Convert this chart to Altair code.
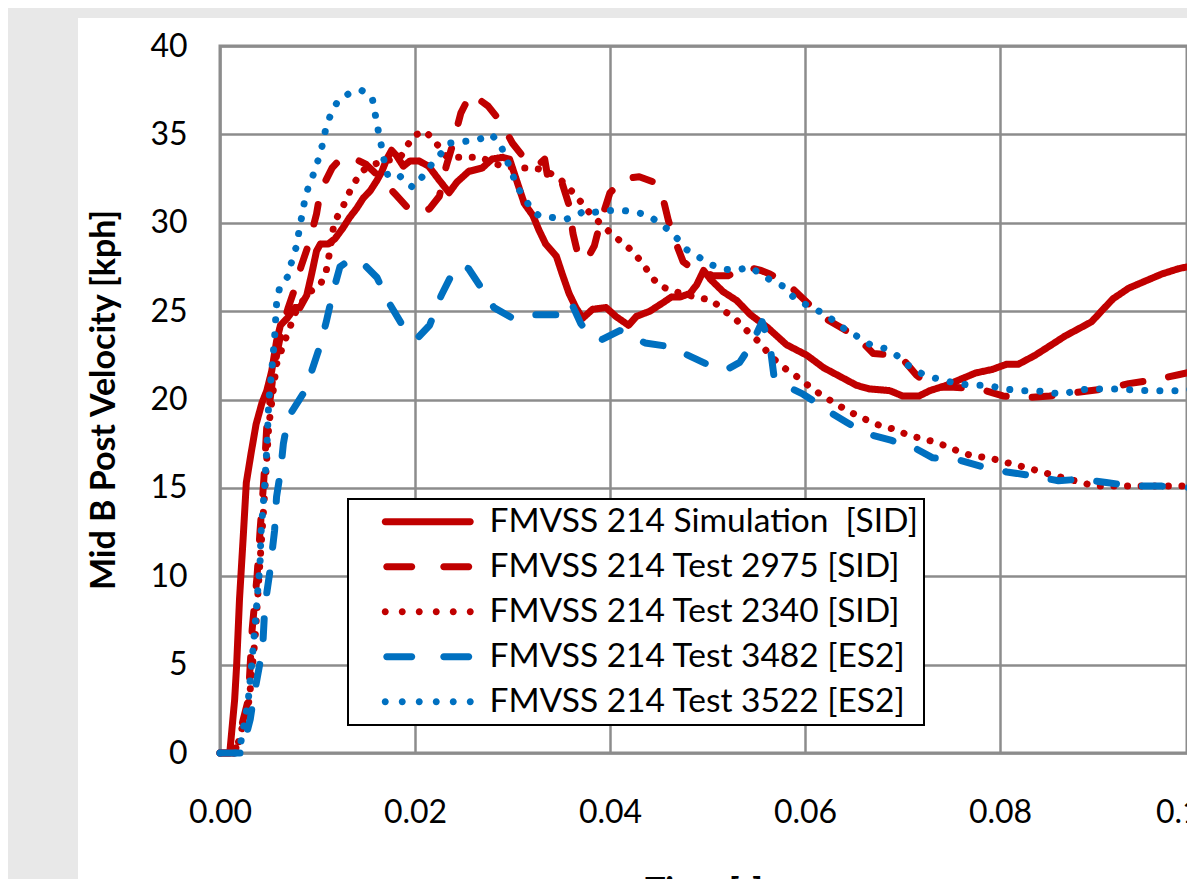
import altair as alt
import pandas as pd

# ---------------- data ----------------
series_names = [
    "FMVSS 214 Simulation\u00a0 [SID]",
    "FMVSS 214 Test 2975 [SID]",
    "FMVSS 214 Test 2340 [SID]",
    "FMVSS 214 Test 3482 [ES2]",
    "FMVSS 214 Test 3522 [ES2]",
]
series_colors = ["#C00000", "#C00000", "#C00000", "#0070C0", "#0070C0"]
series_dashes = [[1, 0], [20, 26], [0.1, 13.5], [20, 26], [0.1, 15]]

x_ticks = [0.0, 0.02, 0.04, 0.06, 0.08, 0.10]
y_ticks = [0, 5, 10, 15, 20, 25, 30, 35, 40]

sim_t = [0, 0.001, 0.0015, 0.0017, 0.002, 0.0024, 0.0027, 0.0032, 0.0037, 0.0043, 0.0048,
         0.0053, 0.0058, 0.0062, 0.0069, 0.0077, 0.0082, 0.0089, 0.0094, 0.0099, 0.0103,
         0.0111, 0.0118, 0.0126, 0.0133, 0.014, 0.0147, 0.0154, 0.0161, 0.0166, 0.0171,
         0.0176, 0.0181, 0.0188, 0.0195, 0.0204, 0.0214, 0.0225, 0.0235, 0.0243, 0.0255,
         0.0269, 0.0279, 0.029, 0.0297, 0.0303, 0.0312, 0.0321, 0.0327, 0.0334, 0.0345,
         0.0351, 0.0358, 0.0365, 0.0372, 0.0382, 0.0396, 0.0406, 0.0419, 0.0427, 0.0441,
         0.0455, 0.0463, 0.0472, 0.0482, 0.0489, 0.0496, 0.0503, 0.0516, 0.053, 0.0544,
         0.0561, 0.0581, 0.0602, 0.0619, 0.0636, 0.0653, 0.0666, 0.0687, 0.07, 0.0717,
         0.0728, 0.0745, 0.0762, 0.0775, 0.0792, 0.0807, 0.0819, 0.0836, 0.0853, 0.0867,
         0.0884, 0.0894, 0.0904, 0.0916, 0.0932, 0.0949, 0.0966, 0.0983, 0.1]
sim_v = [0, 0, 3.0, 4.9, 8.7, 12.4, 15.3, 17.0, 18.6, 19.8, 20.5,
         21.6, 23.3, 24.2, 24.6, 25.2, 25.2, 25.9, 27.1, 28.4, 28.8,
         28.8, 29.1, 29.7, 30.3, 30.8, 31.4, 31.8, 32.4, 32.9, 33.6,
         34.1, 33.8, 33.2, 33.5, 33.5, 33.2, 32.4, 31.7, 32.3, 32.9,
         33.1, 33.6, 33.7, 33.6, 32.6, 31.1, 30.4, 29.6, 28.8, 28.1,
         27.1, 26.0, 25.2, 24.6, 25.1, 25.2, 24.7, 24.2, 24.7, 25.0,
         25.5, 25.8, 25.8, 26.0, 26.5, 27.3, 26.8, 26.1, 25.6, 24.8,
         24.1, 23.1, 22.5, 21.8, 21.3, 20.8, 20.6, 20.5, 20.2, 20.2,
         20.5, 20.8, 21.2, 21.5, 21.7, 22.0, 22.0, 22.5, 23.1, 23.6,
         24.1, 24.4, 25.0, 25.7, 26.3, 26.7, 27.1, 27.4, 27.6]

t2975_t = [0, 0.0015, 0.0029, 0.0033, 0.0038, 0.0041, 0.0045, 0.0048, 0.0055, 0.0063, 0.007,
           0.0075, 0.0083, 0.0091, 0.0099, 0.0103, 0.0115, 0.0125, 0.0135, 0.015, 0.0165,
           0.018, 0.0195, 0.0205, 0.0215, 0.0225, 0.0232, 0.0238, 0.0247, 0.0257, 0.0265,
           0.0275, 0.0288, 0.03, 0.031, 0.0325, 0.0333, 0.0337, 0.0342, 0.035, 0.0358,
           0.0362, 0.0368, 0.0376, 0.0384, 0.039, 0.04, 0.0415, 0.043, 0.0445, 0.0453,
           0.046, 0.0468, 0.0475, 0.0482, 0.0492, 0.0505, 0.0521, 0.054, 0.0555, 0.0564,
           0.0583, 0.06, 0.0617, 0.0636, 0.0654, 0.067, 0.0697, 0.0714, 0.0729, 0.0748,
           0.0779, 0.0803, 0.0826, 0.0851, 0.0879, 0.0908, 0.0932, 0.0957, 0.0983, 0.1]
t2975_v = [0, 0, 3.0, 7.0, 10.0, 12.5, 15.5, 18.5, 21.6, 23.9, 25.2,
           26.0, 27.5, 28.8, 30.5, 31.8, 33.1, 33.7, 33.7, 33.3, 32.5,
           31.6, 30.7, 30.5, 30.8, 31.5, 33.2, 34.3, 36.2, 37.3, 37.0,
           36.6, 35.7, 34.5, 33.8, 33.2, 33.6, 32.3, 32.2, 32.4, 31.0,
           29.4, 28.0, 27.9, 28.7, 30.0, 31.7, 32.5, 32.6, 32.3, 31.7,
           30.1, 28.8, 27.8, 27.5, 27.4, 27.0, 27.0, 27.5, 27.3, 27.1,
           26.5, 25.6, 24.7, 24.1, 23.5, 22.6, 22.5, 21.4, 20.7, 20.7,
           20.6, 20.2, 20.1, 20.2, 20.4, 20.6, 20.9, 21.1, 21.4, 21.6]

t2340_t = [0, 0.0016, 0.003, 0.0036, 0.004, 0.0045, 0.005, 0.0058, 0.0067, 0.0078, 0.009,
           0.0103, 0.0109, 0.0113, 0.0117, 0.0126, 0.0135, 0.0145, 0.0157, 0.017, 0.0185,
           0.0198, 0.021, 0.0219, 0.0233, 0.025, 0.0267, 0.0289, 0.0305, 0.0319, 0.0333,
           0.035, 0.0364, 0.038, 0.0401, 0.0412, 0.0423, 0.0432, 0.0441, 0.0449, 0.0461,
           0.048, 0.0505, 0.0517, 0.0526, 0.0535, 0.0544, 0.0554, 0.0564, 0.0576, 0.0586,
           0.0597, 0.0607, 0.0619, 0.063, 0.0643, 0.0653, 0.0665, 0.0678, 0.0693, 0.0705,
           0.0719, 0.0733, 0.0748, 0.076, 0.0773, 0.0789, 0.0802, 0.0816, 0.083, 0.0843,
           0.0856, 0.087, 0.0884, 0.0897, 0.0915, 0.0932, 0.0949, 0.0966, 0.0981, 0.1]
t2340_v = [0, 0, 3.0, 6.5, 10.0, 14.0, 18.5, 22.0, 23.4, 25.0, 26.0,
           26.5, 27.3, 28.5, 30.0, 30.9, 32.0, 32.9, 33.3, 33.5, 33.7,
           34.9, 35.2, 34.7, 33.7, 33.7, 33.7, 33.2, 33.1, 33.1, 33.0,
           32.4, 31.6, 30.5, 29.4, 28.9, 28.4, 27.8, 27.1, 26.5, 26.2,
           25.9, 25.6, 25.0, 24.7, 24.2, 23.7, 23.2, 22.5, 21.9, 21.5,
           21.1, 20.6, 20.2, 19.8, 19.4, 19.1, 18.8, 18.5, 18.3, 18.0,
           17.8, 17.6, 17.3, 17.0, 16.8, 16.7, 16.5, 16.3, 16.1, 15.9,
           15.7, 15.5, 15.3, 15.1, 15.1, 15.1, 15.1, 15.1, 15.1, 15.1]

t3482_t = [0, 0.0022, 0.0031, 0.0034, 0.0041, 0.0044, 0.0046, 0.0051, 0.0056, 0.0058, 0.0062,
           0.0065, 0.007, 0.0085, 0.0094, 0.0103, 0.0109, 0.0116, 0.0123, 0.0133, 0.0145,
           0.0161, 0.0173, 0.0186, 0.0195, 0.0203, 0.0215, 0.0227, 0.0238, 0.0247, 0.0255,
           0.0267, 0.0281, 0.03, 0.0315, 0.0326, 0.0348, 0.0355, 0.036, 0.037, 0.038,
           0.0392, 0.041, 0.0436, 0.046, 0.0484, 0.0503, 0.052, 0.0533, 0.0545, 0.0556,
           0.0564, 0.0568, 0.0583, 0.0598, 0.0615, 0.0622, 0.0643, 0.0661, 0.0688, 0.0711,
           0.0731, 0.0756, 0.0782, 0.0807, 0.0832, 0.086, 0.0884, 0.0909, 0.0937, 0.0966, 0.1]
t3482_v = [0, 0, 1.9, 3.0, 5.1, 6.2, 8.3, 10.2, 12.6, 14.5, 15.9,
           17.5, 19.0, 20.3, 21.6, 23.1, 24.4, 26.1, 27.5, 27.9, 27.8,
           26.9, 25.5, 24.3, 23.6, 23.5, 24.2, 25.9, 27.1, 27.6, 27.4,
           26.4, 25.2, 24.6, 24.8, 24.8, 24.8, 25.3, 25.5, 24.3, 23.6,
           23.4, 23.9, 23.2, 23.0, 22.4, 21.9, 21.7, 22.1, 23.1, 24.4,
           23.1, 21.4, 20.7, 20.3, 19.7, 19.4, 18.7, 18.1, 17.7, 17.3,
           16.7, 16.6, 16.2, 15.9, 15.7, 15.4, 15.5, 15.3, 15.1, 15.1, 15.0]

t3522_t = [0, 0.0018, 0.0021, 0.0024, 0.0029, 0.0033, 0.0037, 0.0039, 0.0041, 0.0042, 0.0044,
           0.0046, 0.0048, 0.005, 0.0053, 0.0056, 0.0058, 0.0061, 0.007, 0.0073, 0.0078,
           0.0081, 0.0087, 0.0091, 0.0097, 0.0102, 0.0106, 0.0109, 0.0115, 0.0121, 0.0132,
           0.0145, 0.0156, 0.0159, 0.0162, 0.0165, 0.0168, 0.0172, 0.0182, 0.019, 0.0198,
           0.0209, 0.0217, 0.0225, 0.0235, 0.0251, 0.0265, 0.0278, 0.0287, 0.0293, 0.0299,
           0.0304, 0.0311, 0.0319, 0.0327, 0.0341, 0.0355, 0.0365, 0.0375, 0.0385, 0.0397,
           0.0412, 0.0427, 0.044, 0.045, 0.046, 0.0469, 0.0478, 0.049, 0.0501, 0.0514,
           0.0529, 0.0543, 0.0555, 0.0566, 0.0578, 0.0588, 0.06, 0.0611, 0.0624, 0.0635,
           0.0646, 0.0656, 0.0667, 0.0681, 0.0694, 0.0704, 0.0715, 0.0726, 0.0742, 0.0756,
           0.0771, 0.0788, 0.0804, 0.0821, 0.0837, 0.0864, 0.0878, 0.0892, 0.092, 0.095,
           0.0985, 0.1]
t3522_v = [0, 0, 0.5, 1.4, 3.0, 5.3, 7.9, 9.4, 10.6, 12.4, 13.8,
           15.3, 17.2, 19.9, 21.6, 23.5, 25.4, 26.3, 27.0, 27.7, 28.6,
           29.5, 31.3, 32.1, 32.9, 33.8, 34.6, 35.5, 36.3, 36.9, 37.3,
           37.5, 37.1, 36.2, 35.3, 34.5, 33.6, 32.7, 32.8, 32.3, 32.0,
           32.7, 33.3, 33.8, 34.5, 34.6, 34.7, 35.0, 34.5, 33.7, 32.9,
           32.1, 31.5, 30.8, 30.4, 30.3, 30.2, 30.4, 30.7, 30.6, 30.7,
           30.7, 30.6, 30.4, 30.0, 29.6, 29.1, 28.5, 28.1, 27.7, 27.4,
           27.3, 27.5, 27.1, 26.7, 26.4, 25.8, 25.4, 25.1, 24.7, 24.2,
           23.8, 23.5, 23.1, 22.9, 22.5, 22.0, 21.6, 21.3, 21.1, 20.9,
           20.8, 20.8, 20.6, 20.5, 20.5, 20.3, 20.5, 20.6, 20.6, 20.5,
           20.5, 20.6]

series_t = [sim_t, t2975_t, t2340_t, t3482_t, t3522_t]
series_v = [sim_v, t2975_v, t2340_v, t3482_v, t3522_v]

rows = []
for name, ts, vs in zip(series_names, series_t, series_v):
    assert len(ts) == len(vs), (name, len(ts), len(vs))
    for t, v in zip(ts, vs):
        rows.append({"t": t, "v": v, "series": name})
df = pd.DataFrame(rows)


# ---------------- legend swatches (custom symbol paths, unit = 4 px) ----------------
def capsule(x0, x1, r=0.875):
    a, b = x0 + r, x1 - r
    return f"M{a},{-r}H{b}A{r},{r} 0 0 1 {b},{r}H{a}A{r},{r} 0 0 1 {a},{-r}Z"


def dot(cx, r=0.875):
    return f"M{cx - r},0A{r},{r} 0 1 0 {cx + r},0A{r},{r} 0 1 0 {cx - r},0Z"


solid_sym = capsule(-11.5, 11.5)
dash_sym = capsule(-11.125, -3.125) + capsule(3.125, 11.125)
dot_sym = "".join(dot(c) for c in [-10.625, -6.375, -2.125, 2.125, 6.375, 10.625])
legend_shapes = [solid_sym, dash_sym, dot_sym, dash_sym, dot_sym]

# ---------------- layout ----------------
W, H = 967, 707
X_MAX = 0.1 * W / 975.0          # right edge of the visible plot (page is cut there)
PAD = {"left": 212, "top": 38, "right": 0, "bottom": 126}
GRAY = "#e8e8e8"
FONT = "Lato"

x_tick_pos = [v if v < 0.099 else X_MAX for v in x_ticks]

x_enc = alt.X("t:Q", scale=alt.Scale(domain=[0, X_MAX], nice=False, zero=False),
              axis=alt.Axis(values=x_tick_pos, title="Time [s]",
                            labelExpr="datum.value > 0.099 ? '0.10' : format(datum.value, '.2f')",
                            labelPadding=44, titlePadding=46, labelFlush=False))
y_enc = alt.Y("v:Q", scale=alt.Scale(domain=[0, 40], nice=False),
              axis=alt.Axis(values=y_ticks, format="d", title="Mid B Post Velocity [kph]",
                            labelPadding=33, titlePadding=28))

legend_def = alt.Legend(
    title=None, orient="none", legendX=128, legendY=453,
    symbolSize=64, symbolOffset=57, symbolStrokeWidth=0,
    labelFont=FONT, labelFontSize=33.5, labelColor="black", labelOffset=45, labelLimit=0,
    padding=6, rowPadding=10, strokeColor="black", fillColor="white",
)

lines = alt.Chart(df).mark_line(strokeCap="round", strokeJoin="round").encode(
    x=x_enc,
    y=y_enc,
    color=alt.Color("series:N", sort=series_names,
                    scale=alt.Scale(domain=series_names, range=series_colors), legend=None),
    strokeDash=alt.StrokeDash("series:N", sort=series_names,
                              scale=alt.Scale(domain=series_names, range=series_dashes),
                              legend=None),
    strokeWidth=alt.value(7),
)

legend_layer = alt.Chart(df).transform_filter("false").mark_point(
    filled=True, opacity=1, size=64
).encode(
    x=x_enc,
    y=y_enc,
    color=alt.Color("series:N", sort=series_names,
                    scale=alt.Scale(domain=series_names, range=series_colors), legend=legend_def),
    shape=alt.Shape("series:N", sort=series_names,
                    scale=alt.Scale(domain=series_names, range=legend_shapes),
                    legend=legend_def),
)

strip_data = alt.Data(values=[{"k": 1}])
top_strip = alt.Chart(strip_data).mark_rect(color=GRAY).encode(
    x=alt.value(-PAD["left"]), x2=alt.value(W), y=alt.value(-PAD["top"]), y2=alt.value(-28))
left_strip = alt.Chart(strip_data).mark_rect(color=GRAY).encode(
    x=alt.value(-PAD["left"]), x2=alt.value(-142), y=alt.value(-PAD["top"]),
    y2=alt.value(H + PAD["bottom"]))

chart = alt.layer(top_strip, left_strip, lines, legend_layer).resolve_scale(
    color="independent", strokeDash="independent", shape="independent"
).resolve_legend(
    color="independent", strokeDash="independent", shape="independent"
).properties(
    width=W, height=H, padding=PAD, autosize=alt.AutoSizeParams(type="none"),
    background="white",
).configure_view(
    stroke="#8c8c8c", strokeWidth=3,
).configure_axis(
    grid=True, gridColor="#8c8c8c", gridWidth=2.5, domain=False, ticks=False,
    labelFont=FONT, labelFontSize=32, labelColor="black",
    titleFont=FONT, titleFontSize=34, titleFontWeight="bold", titleColor="black",
).configure_legend(
    strokeWidth=2,
)

chart.save("out.html", embed_options={"renderer": "svg", "actions": False})
